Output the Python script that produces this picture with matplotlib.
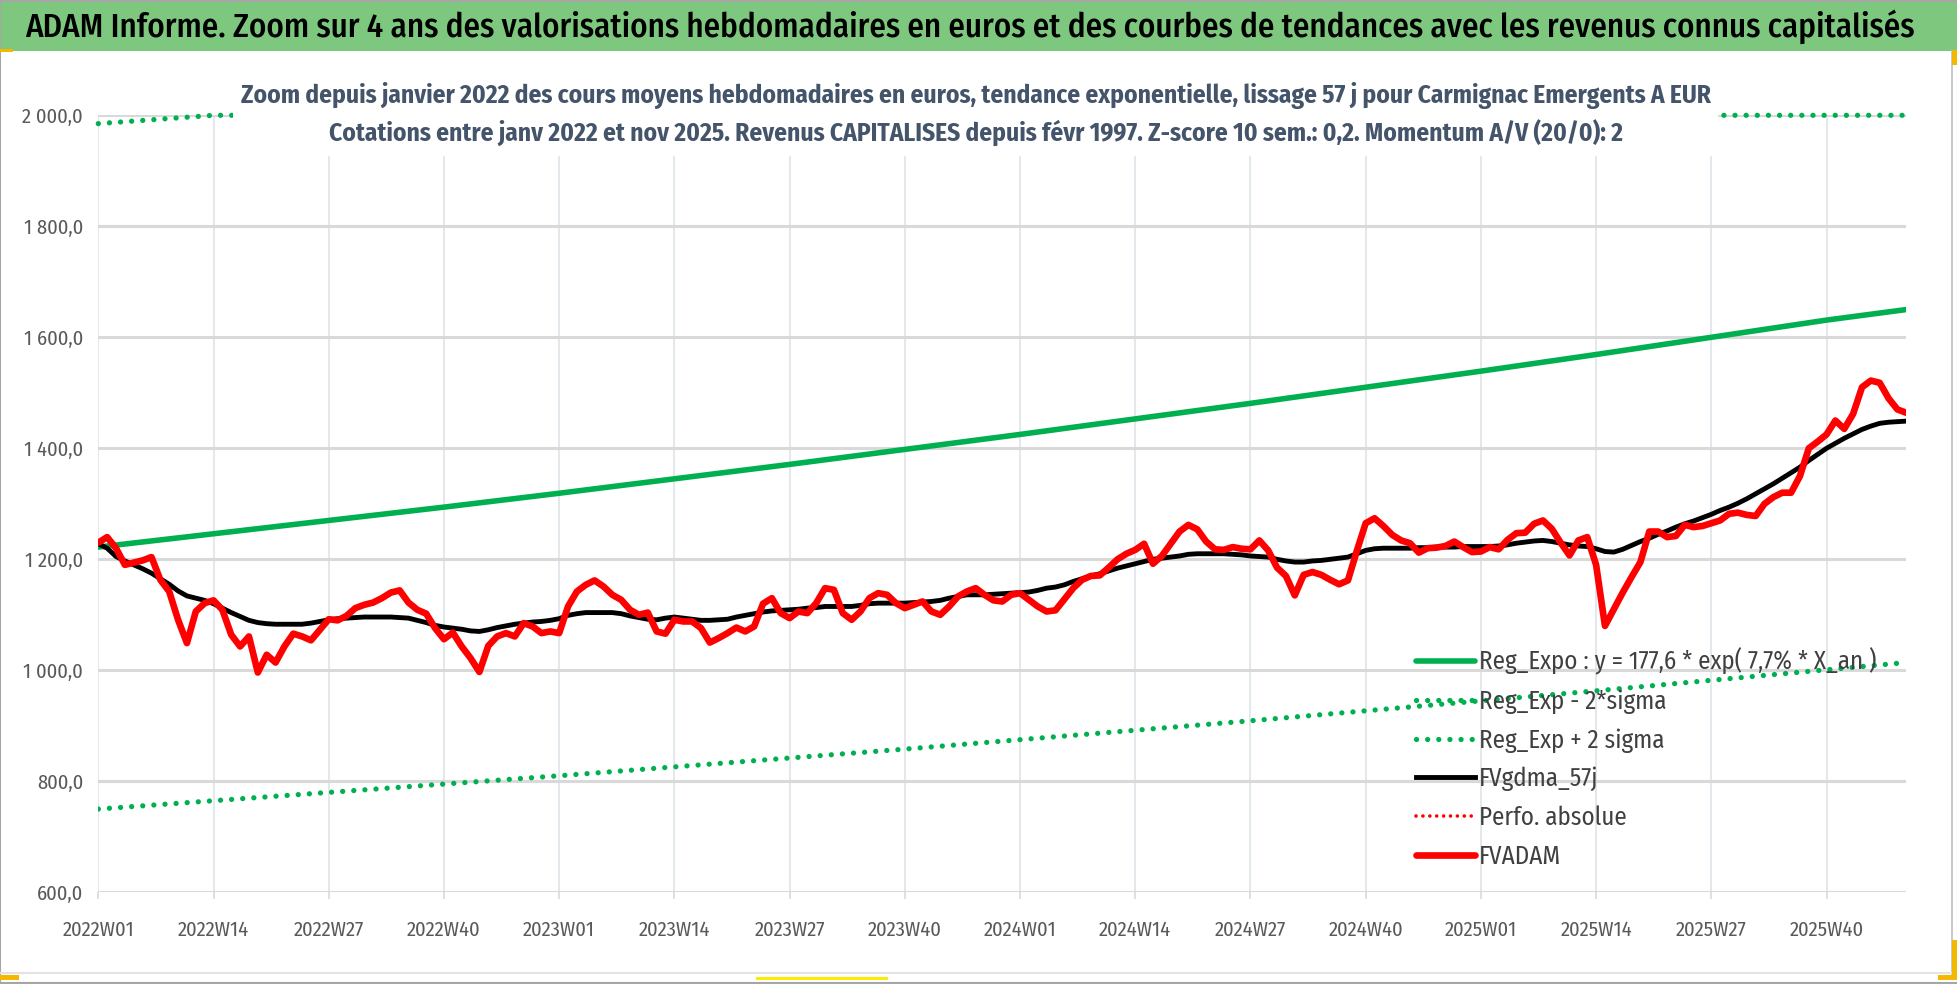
import numpy as np
import matplotlib.pyplot as plt
from matplotlib import font_manager as fm
from matplotlib.patches import Rectangle
from matplotlib.lines import Line2D
from matplotlib.ticker import FuncFormatter

# narrow sans family close to the chart's condensed look
available = {f.name for f in fm.fontManager.ttflist}
family = 'DejaVu Sans'
for fam in ['Fira Sans Condensed', 'Roboto Condensed', 'Carlito', 'Liberation Sans Narrow']:
    if fam in available:
        family = fam
        break
plt.rcParams['font.family'] = [family, 'DejaVu Sans']

W, H = 1958, 984

# weekly categories 2022W01 .. 2025W49
years = [2022, 2023, 2024, 2025]
weeks_per_year = [52, 52, 52, 49]
week_labels = [f"{y}W{w:02d}" for y, n in zip(years, weeks_per_year) for w in range(1, n + 1)]

# FVADAM : weekly average price in euros
fvadam = [
    1230, 1240, 1220, 1190, 1194, 1198, 1204, 1163, 1142, 1091,
    1049, 1106, 1121, 1126, 1109, 1064, 1043, 1061, 996, 1028,
    1014, 1043, 1066, 1061, 1054, 1073, 1092, 1090, 1098, 1112,
    1118, 1122, 1130, 1140, 1144, 1122, 1109, 1102, 1076, 1056,
    1068, 1043, 1022, 997, 1044, 1061, 1067, 1061, 1085, 1079,
    1067, 1070, 1067, 1115, 1142, 1154, 1162, 1151, 1136, 1127,
    1109, 1100, 1104, 1070, 1066, 1091, 1088, 1088, 1076, 1050,
    1058, 1067, 1077, 1070, 1079, 1120, 1130, 1103, 1094, 1106,
    1103, 1121, 1148, 1145, 1103, 1091, 1106, 1130, 1139, 1136,
    1121, 1112, 1118, 1124, 1106, 1100, 1115, 1133, 1142, 1148,
    1136, 1126, 1124, 1136, 1139, 1127, 1115, 1106, 1108, 1128,
    1148, 1163, 1170, 1171, 1185, 1200, 1210, 1217, 1228, 1192,
    1206, 1228, 1250, 1262, 1254, 1232, 1218, 1217, 1222, 1219,
    1218, 1234, 1216, 1185, 1170, 1135, 1172, 1177, 1172, 1163,
    1155, 1162, 1215, 1265, 1274, 1260, 1244, 1234, 1229, 1212,
    1220, 1221, 1224, 1232, 1222, 1213, 1214, 1222, 1218, 1235,
    1247, 1248, 1264, 1270, 1255, 1230, 1207, 1234, 1240, 1190,
    1080, 1110, 1140, 1168, 1195, 1250, 1250, 1240, 1242, 1262,
    1258, 1260, 1265, 1270, 1282, 1284, 1280, 1278, 1300, 1312,
    1320, 1320, 1350, 1400, 1412, 1425, 1450, 1435, 1462, 1510,
    1522, 1518, 1490, 1470, 1464,
]

# FVgdma_57j : smoothed curve
fvgdma = [
    1228, 1220, 1205, 1197, 1190, 1183, 1175, 1165, 1155, 1143,
    1134, 1130, 1126, 1120, 1112, 1104, 1097, 1090, 1086, 1084,
    1083, 1083, 1083, 1083, 1085, 1088, 1091, 1093, 1094, 1095,
    1096, 1096, 1096, 1096, 1095, 1094, 1090, 1086, 1081, 1078,
    1076, 1074, 1071, 1070, 1073, 1077, 1080, 1083, 1085, 1087,
    1088, 1090, 1093, 1099, 1102, 1104, 1104, 1104, 1104, 1102,
    1098, 1095, 1092, 1091, 1094, 1096, 1094, 1092, 1090, 1090,
    1091, 1092, 1096, 1099, 1102, 1105, 1107, 1108, 1109, 1110,
    1112, 1113, 1115, 1115, 1115, 1115, 1117, 1120, 1121, 1121,
    1121, 1121, 1122, 1123, 1124, 1126, 1130, 1133, 1136, 1136,
    1136, 1137, 1138, 1139, 1140, 1141, 1144, 1148, 1150, 1154,
    1160, 1165, 1170, 1174, 1179, 1184, 1188, 1192, 1196, 1200,
    1202, 1204, 1206, 1209, 1210, 1210, 1210, 1210, 1209, 1208,
    1206, 1205, 1204, 1200, 1197, 1195, 1195, 1197, 1198, 1200,
    1202, 1204, 1210, 1216, 1219, 1220, 1220, 1220, 1220, 1221,
    1221, 1222, 1222, 1222, 1223, 1223, 1223, 1223, 1224, 1226,
    1229, 1231, 1233, 1234, 1232, 1229, 1226, 1224, 1223, 1219,
    1214, 1213, 1218, 1225, 1232, 1238, 1245, 1251, 1258, 1264,
    1269, 1275, 1281, 1288, 1294, 1301, 1309, 1318, 1327, 1336,
    1346, 1356, 1366, 1378, 1389, 1400, 1409, 1418, 1426, 1434,
    1440, 1445, 1447, 1448, 1449,
]

# trend curves read at the quarterly ticks (and last week)
trend_idx = [0, 13, 26, 39, 52, 65, 78, 91, 104, 117, 130, 143, 156, 169, 182, 195, 204]
reg_expo = [1222, 1246, 1270, 1294, 1319, 1345, 1371, 1398, 1425, 1453, 1481, 1510, 1539, 1569, 1600, 1631, 1650]
reg_minus = [750, 765, 780, 795, 810, 826, 842, 858, 875, 892, 909, 927, 945, 963, 982, 1001, 1014]
reg_plus = [1985, 2023, 2062, 2101, 2142, 2184, 2227, 2270, 2314, 2360, 2405, 2452, 2499, 2548, 2598, 2649, 2680]
perfo_absolue = []  # no visible values on this zoom

ymin, ymax = 600, 2000

title = ("ADAM Informe. Zoom sur 4 ans des valorisations hebdomadaires en euros "
         "et des courbes de tendances avec les revenus connus capitalisés")
sub1 = ("Zoom depuis janvier 2022 des cours moyens hebdomadaires en euros, tendance exponentielle, "
        "lissage 57 j pour Carmignac Emergents A EUR")
sub2 = ("Cotations entre janv 2022 et nov 2025. Revenus CAPITALISES depuis févr 1997. "
        "Z-score 10 sem.: 0,2. Momentum A/V (20/0): 2")
labels = ['Reg_Expo : y = 177,6 * exp( 7,7% * X_an )', 'Reg_Exp - 2*sigma',
          'Reg_Exp + 2 sigma', 'FVgdma_57j', 'Perfo. absolue', 'FVADAM']

fig = plt.figure(figsize=(W / 100, H / 100), dpi=100)
renderer = fig.canvas.get_renderer()


def size_for(text, width_px, **kw):
    # font size giving the text the width it has in the picture
    t = fig.text(0, 0, text, fontsize=20, **kw)
    w = t.get_window_extent(renderer).width
    t.remove()
    return 20 * width_px / w


fs_title = size_for(title, 1894, fontweight='medium')
fs_sub = size_for(sub1, 1470, fontweight='bold')
fs_tick = size_for('2022W01', 72)
fs_leg = size_for(labels[0], 398)

left, right, top, bottom = 98.3, 1906.3, 115.3, 892.3
ax = fig.add_axes([left / W, 1 - bottom / H, (right - left) / W, (bottom - top) / H])

x = np.arange(len(fvadam))
green = '#00B050'
dots = (0, (0.01, 2.1))
ax.plot(trend_idx, reg_expo, color=green, lw=4.0, solid_capstyle='round', label=labels[0])
ax.plot(trend_idx, reg_minus, color=green, lw=3.8, linestyle=dots,
        dash_capstyle='round', label=labels[1])
ax.plot(trend_idx, np.minimum(reg_plus, ymax), color=green, lw=3.8, linestyle=dots,
        dash_capstyle='round', clip_on=False, label=labels[2])
ax.plot(x, fvgdma, color='black', lw=3.5, solid_joinstyle='round', label=labels[3])
ax.plot(perfo_absolue, perfo_absolue, color='#FF0000', lw=2.6, linestyle=(0, (0.01, 1.9)),
        dash_capstyle='round', label=labels[4])
ax.plot(x, fvadam, color='#FF0000', lw=4.8, solid_joinstyle='round', solid_capstyle='round',
        label=labels[5])

ax.set_xlim(0, len(fvadam) - 1)
ax.set_ylim(ymin, ymax)
ax.set_yticks(range(ymin, ymax + 1, 200))
ax.yaxis.set_major_formatter(FuncFormatter(
    lambda v, p: f"{v:,.1f}".replace(",", " ").replace(".", ",")))
xt = list(range(0, len(fvadam), 13))
ax.set_xticks(xt)
ax.set_xticklabels([week_labels[i] for i in xt])

for s in ax.spines.values():
    s.set_visible(False)
ax.grid(axis='y', color='#D9D9D9', lw=2.2)
ax.grid(axis='x', color='#E1E6EC', lw=1.3)
ax.set_axisbelow(True)
ax.tick_params(axis='x', length=5, width=1.2, color='#D9D9D9', pad=15,
               labelsize=fs_tick, labelcolor='#595959')
ax.tick_params(axis='y', length=0, pad=11, labelsize=fs_tick, labelcolor='#595959')

fs_px = fs_leg * 100 / 72
ax.legend(loc='upper left', bbox_to_anchor=(1416 / W, 1 - 648 / H),
          bbox_transform=fig.transFigure, frameon=False, borderpad=0,
          borderaxespad=0, handlelength=59 / fs_px, handletextpad=4 / fs_px,
          labelspacing=(43.0 - 1.17 * fs_px) / fs_px, fontsize=fs_leg, labelcolor='#404040')

# banner
fig.patches.append(Rectangle((0, 1 - 51 / H), 1, 49 / H, transform=fig.transFigure,
                             facecolor='#7EC77E', edgecolor='none', zorder=1))
fig.text(25 / W, 1 - 27 / H, title, ha='left', va='center', fontsize=fs_title,
         fontweight='medium', color='black')

# white box behind the chart title
fig.patches.append(Rectangle((233 / W, 1 - 156 / H), (1718 - 233) / W, (156 - 60) / H,
                             transform=fig.transFigure, facecolor='white',
                             edgecolor='none', zorder=1))
fig.text(976 / W, 1 - 103.3 / H, sub1, ha='center', va='baseline', fontsize=fs_sub,
         fontweight='bold', color='#44546A', zorder=3)
fig.text(976 / W, 1 - 141.7 / H, sub2, ha='center', va='baseline', fontsize=fs_sub,
         fontweight='bold', color='#44546A', zorder=3)

# chart frame and selection marks
fig.add_artist(Line2D([0, 1, 1, 0, 0], [0.001, 0.001, 0.999, 0.999, 0.001],
                      transform=fig.transFigure, color='#A6A6A6', lw=1.5))
fig.add_artist(Line2D([1952 / W, 1952 / W], [1 - 975 / H, 1 - 51 / H],
                      transform=fig.transFigure, color='#BFBFBF', lw=1.2))
fig.add_artist(Line2D([0, 1952 / W], [1 - 973 / H, 1 - 973 / H],
                      transform=fig.transFigure, color='#E3E3E3', lw=1.5))
for (x0, y0, w0, h0, c) in [(756, 977, 132, 3, '#FFEB00'), (0, 975, 19, 5, '#F5B800'),
                            (0, 49, 13, 3, '#F5B800'), (1952, 50, 6, 15, '#F5B800'),
                            (1952, 940, 6, 40, '#F5B800'), (1938, 975, 20, 5, '#F5B800')]:
    fig.patches.append(Rectangle((x0 / W, 1 - (y0 + h0) / H), w0 / W, h0 / H,
                                 transform=fig.transFigure, facecolor=c,
                                 edgecolor='none', zorder=2))

fig.savefig('out.png', dpi=100)
